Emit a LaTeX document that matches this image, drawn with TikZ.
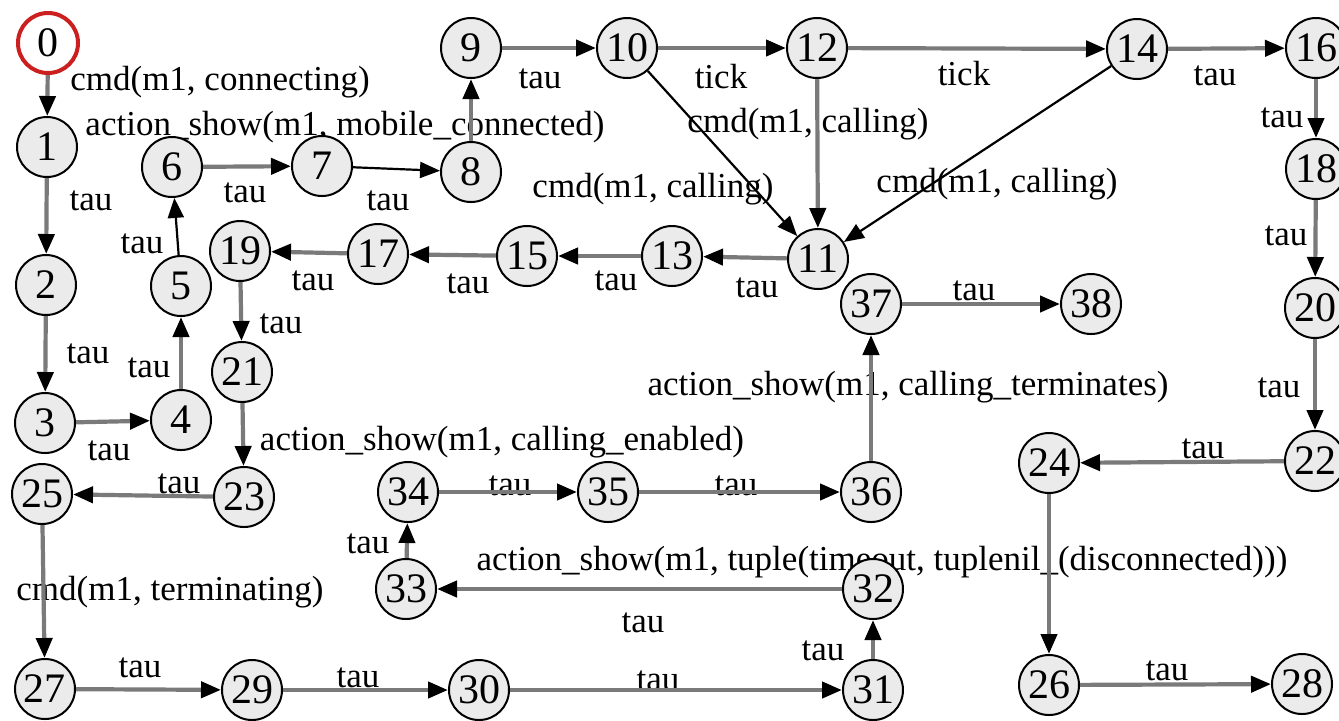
\documentclass[tikz,border=0pt]{standalone}
\usepackage{fontspec}
\setmainfont{Liberation Serif}
\usetikzlibrary{arrows.meta}
\definecolor{stfill}{HTML}{EBEBEB}
\definecolor{edgegray}{HTML}{7A7A7A}
\definecolor{initred}{HTML}{CC2020}
\pgfdeclarelayer{labels}
\pgfdeclarelayer{edges}
\pgfsetlayers{labels,edges,main}
\begin{document}
\begin{tikzpicture}[x=0.5pt,y=-0.5pt,
 st/.style={circle,draw=black,line width=1pt,fill=stfill,minimum size=30pt,inner sep=0pt,font=\fontsize{21}{21}\selectfont},
 init/.style={st,draw=initred,line width=2pt,fill=white},
 tr/.style={draw=edgegray,line width=2.1pt,-{Triangle[length=10pt,width=8pt,color=black]}},
 trk/.style={tr,draw=black,line width=1.1pt},
 lbl/.style={anchor=base,inner sep=0pt,font=\fontsize{17.5}{17.5}\selectfont}
]
\begin{pgfonlayer}{labels}
\fill[white] (0,0) rectangle (1339,720);
\end{pgfonlayer}
\useasboundingbox (0,0) rectangle (1339,720);
% states
\node[init] (n0) at (48,43) {0};
\node[st] (n1) at (47,147) {1};
\node[st] (n2) at (46,285) {2};
\node[st] (n3) at (45,423) {3};
\node[st] (n4) at (181,420) {4};
\node[st] (n5) at (181,286) {5};
\node[st] (n6) at (172,167) {6};
\node[st] (n7) at (322,166) {7};
\node[st] (n8) at (471,172) {8};
\node[st] (n9) at (471,48) {9};
\node[st] (n10) at (627,48) {10};
\node[st] (n12) at (817,48) {12};
\node[st] (n14) at (1137,49) {14};
\node[st] (n16) at (1316,48) {16};
\node[st] (n18) at (1316,169) {18};
\node[st] (n20) at (1315,308) {20};
\node[st] (n22) at (1315,461) {22};
\node[st] (n24) at (1049,463) {24};
\node[st] (n26) at (1049,685) {26};
\node[st] (n28) at (1302,684) {28};
\node[st] (n11) at (818,259) {11};
\node[st] (n13) at (672,256) {13};
\node[st] (n15) at (527,256) {15};
\node[st] (n17) at (378,254) {17};
\node[st] (n19) at (240,251) {19};
\node[st] (n21) at (242,372) {21};
\node[st] (n23) at (244,497) {23};
\node[st] (n25) at (42,494) {25};
\node[st] (n27) at (45,689) {27};
\node[st] (n29) at (252,690) {29};
\node[st] (n30) at (479,690) {30};
\node[st] (n31) at (873,690) {31};
\node[st] (n32) at (873,589) {32};
\node[st] (n33) at (406,589) {33};
\node[st] (n34) at (408,492) {34};
\node[st] (n35) at (608,492) {35};
\node[st] (n36) at (871,492) {36};
\node[st] (n37) at (871,304) {37};
\node[st] (n38) at (1091,304) {38};
% transitions
\begin{pgfonlayer}{edges}
\draw[tr] (n0) -- (n1);
\draw[tr] (n1) -- (n2);
\draw[tr] (n2) -- (n3);
\draw[tr] (n3) -- (n4);
\draw[tr] (n4) -- (n5);
\draw[trk] (n5) -- (n6);
\draw[tr] (n6) -- (n7);
\draw[trk] (n7) -- (n8);
\draw[tr] (n8) -- (n9);
\draw[tr] (n9) -- (n10);
\draw[tr] (n10) -- (n12);
\draw[tr] (n12) -- (n14);
\draw[tr] (n14) -- (n16);
\draw[tr] (n16) -- (n18);
\draw[tr] (n18) -- (n20);
\draw[tr] (n20) -- (n22);
\draw[tr] (n22) -- (n24);
\draw[tr] (n24) -- (n26);
\draw[tr] (n26) -- (n28);
\draw[trk] (n10) -- (n11);
\draw[tr] (n12) -- (n11);
\draw[trk] (n14) -- (n11);
\draw[tr] (n11) -- (n13);
\draw[tr] (n13) -- (n15);
\draw[tr] (n15) -- (n17);
\draw[tr] (n17) -- (n19);
\draw[tr] (n19) -- (n21);
\draw[tr] (n21) -- (n23);
\draw[tr] (n23) -- (n25);
\draw[tr] (n25) -- (n27);
\draw[tr] (n27) -- (n29);
\draw[tr] (n29) -- (n30);
\draw[tr] (n30) -- (n31);
\draw[tr] (n31) -- (n32);
\draw[tr] (n32) -- (n33);
\draw[tr] (n33) -- (n34);
\draw[tr] (n34) -- (n35);
\draw[tr] (n35) -- (n36);
\draw[tr] (n36) -- (n37);
\draw[tr] (n37) -- (n38);
\end{pgfonlayer}
% labels
\begin{pgfonlayer}{labels}
\node[lbl] (l0) at (220,90) {cmd(m1, connecting)};
\node[lbl] (l8) at (345,135) {action\_show(m1, mobile\_connected)};
\node[lbl] (l1) at (91,210) {tau};
\node[lbl] (l6) at (245,202) {tau};
\node[lbl] (l7) at (388,210) {tau};
\node[lbl] (l9) at (540,88) {tau};
\node[lbl] (l10) at (721,88) {tick};
\node[lbl] (l12b) at (808,132) {cmd(m1, calling)};
\node[lbl] (l10b) at (653,197) {cmd(m1, calling)};
\node[lbl] (l12) at (964,85) {tick};
\node[lbl] (l14) at (1215,85) {tau};
\node[lbl] (l14b) at (997,192) {cmd(m1, calling)};
\node[lbl] (l16) at (1282,127) {tau};
\node[lbl] (l18) at (1286,245) {tau};
\node[lbl] (l20) at (1279,397) {tau};
\node[lbl] (l22) at (1203,458) {tau};
\node[lbl] (l37) at (974,300) {tau};
\node[lbl] (l36) at (908,395) {action\_show(m1, calling\_terminates)};
\node[lbl] (l11) at (757,297) {tau};
\node[lbl] (l13) at (616,290) {tau};
\node[lbl] (l15) at (468,293) {tau};
\node[lbl] (l17) at (313,290) {tau};
\node[lbl] (l19) at (281,333) {tau};
\node[lbl] (l5) at (142,253) {tau};
\node[lbl] (l2) at (88,363) {tau};
\node[lbl] (l4) at (149,377) {tau};
\node[lbl] (l3) at (109,460) {tau};
\node[lbl] (l21) at (502,450) {action\_show(m1, calling\_enabled)};
\node[lbl] (l23) at (179,493) {tau};
\node[lbl] (l25) at (170,600) {cmd(m1, terminating)};
\node[lbl] (l33) at (368,553) {tau};
\node[lbl] (l27) at (140,677) {tau};
\node[lbl] (l29) at (358,687) {tau};
\node[lbl] (l34) at (510,495) {tau};
\node[lbl] (l35) at (736,495) {tau};
\node[lbl] (l24) at (882,570) {action\_show(m1, tuple(timeout, tuplenil\_(disconnected)))};
\node[lbl] (l32) at (643,632) {tau};
\node[lbl] (l31) at (823,660) {tau};
\node[lbl] (l30) at (658,690) {tau};
\node[lbl] (l26) at (1167,680) {tau};
\end{pgfonlayer}
\end{tikzpicture}
\end{document}
